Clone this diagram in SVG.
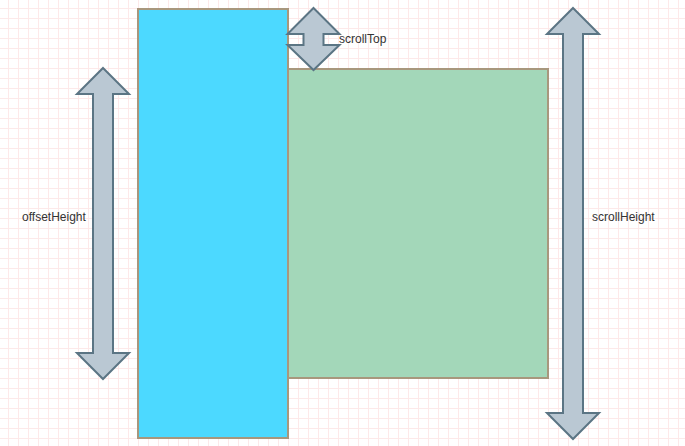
<svg xmlns="http://www.w3.org/2000/svg" width="685" height="446" viewBox="0 0 685 446">
  <defs>
    <pattern id="grid" x="8" y="8" width="10" height="10" patternUnits="userSpaceOnUse">
      <path d="M0.5 0 V10 M0 0.5 H10" fill="none" stroke="#fde9e9" stroke-width="1"/>
    </pattern>
    <style>
      .arrow { fill: #bac8d3; stroke: #5b7584; stroke-width: 2; stroke-linejoin: miter; }
      .box { stroke: #a8977d; stroke-width: 2; }
      .lbl { font-family: "Liberation Sans", Arial, sans-serif; font-size: 12px; fill: #333333; }
    </style>
  </defs>
  <rect x="0" y="0" width="685" height="446" fill="#ffffff"/>
  <rect x="0" y="0" width="685" height="446" fill="url(#grid)"/>

  <g id="viewport">
    <rect class="box" x="138" y="9" width="150" height="429" fill="#4cd9ff"/>
  </g>
  <g id="content">
    <rect class="box" x="288" y="69" width="260" height="309" fill="#a3d7b9"/>
  </g>

  <g id="connectors">
    <g id="offsetHeight-arrow">
      <polygon class="arrow" points="103,68 129,94 113,94 113,353 129,353 103,379 77,353 93,353 93,94 77,94"/>
    </g>
    <g id="scrollHeight-arrow">
      <polygon class="arrow" points="573,8 599,34 583,34 583,413 599,413 573,439 547,413 563,413 563,34 547,34"/>
    </g>
    <g id="scrollTop-arrow">
      <polygon class="arrow" points="313.5,8 339.5,34 323.5,34 323.5,45 339.5,45 313.5,70 287.5,45 303.5,45 303.5,34 287.5,34"/>
    </g>
  </g>

  <g id="labels">
    <text class="lbl" x="339" y="43">scrollTop</text>
    <text class="lbl" x="22" y="221">offsetHeight</text>
    <text class="lbl" x="592" y="221">scrollHeight</text>
  </g>
</svg>
